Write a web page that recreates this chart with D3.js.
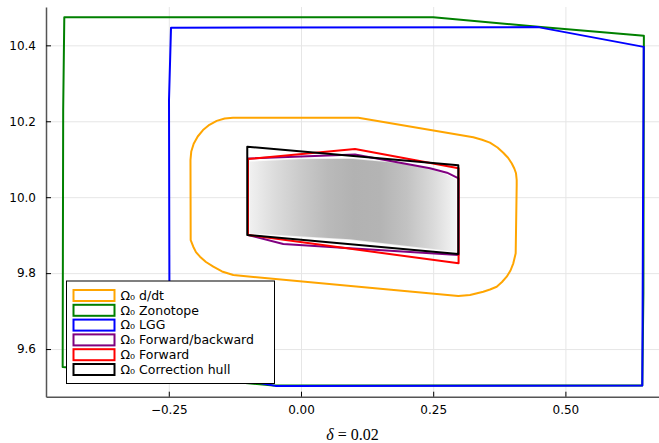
<!DOCTYPE html>
<html>
<head>
<meta charset="utf-8">
<script src="https://cdn.jsdelivr.net/npm/d3@7"></script>
<style>
  body { margin: 0; background: #fff; }
  text { font-family: "DejaVu Sans", sans-serif; }
</style>
</head>
<body>
<div id="chart"></div>
<script>
/* DATA */
const xTicks = [-0.25, 0, 0.25, 0.5];
const yTicks = [9.6, 9.8, 10.0, 10.2, 10.4];
const xLabel = "0.02";

const legendLabels = [
  "Ω₀ d/dt",
  "Ω₀ Zonotope",
  "Ω₀ LGG",
  "Ω₀ Forward/backward",
  "Ω₀ Forward",
  "Ω₀ Correction hull"
];
const seriesColors = ["orange", "green", "blue", "purple", "red", "black"];

// outer approximations (delta, omega)
const ddt = [
  [-0.2086, 9.8872], [-0.2090, 10.0980], [-0.2075, 10.1204], [-0.2029, 10.1407],
  [-0.1953, 10.1599], [-0.1853, 10.1768], [-0.1732, 10.1907], [-0.1594, 10.2010],
  [-0.1443, 10.2074], [-0.1286, 10.2094], [0.1084, 10.2094], [0.3258, 10.1578],
  [0.3423, 10.1512], [0.3573, 10.1436], [0.3716, 10.1309], [0.3825, 10.1172],
  [0.3915, 10.1038], [0.3984, 10.0893], [0.4034, 10.0756], [0.4066, 10.0630],
  [0.4079, 10.0453], [0.4079, 10.0321], [0.4060, 9.8522], [0.4015, 9.8259],
  [0.3962, 9.8069], [0.3890, 9.7906], [0.3801, 9.7766], [0.3701, 9.7642],
  [0.3574, 9.7568], [0.3447, 9.7511], [0.3196, 9.7424], [0.2975, 9.7397],
  [-0.1280, 9.7950], [-0.1494, 9.8043], [-0.1658, 9.8169], [-0.1797, 9.8293],
  [-0.1910, 9.8433], [-0.1986, 9.8554], [-0.2037, 9.8696]
];
const zonotope = [
  [-0.4476, 10.474], [0.2502, 10.474], [0.4482, 10.449], [0.6484, 10.425],
  [0.6475, 9.748], [0.6454, 9.504], [-0.0520, 9.504], [-0.2502, 9.529],
  [-0.4507, 9.553], [-0.4497, 10.230]
];
const lgg = [
  [-0.2458, 10.4465], [0.4482, 10.448], [0.6481, 10.396], [0.6454, 9.504],
  [-0.0482, 9.503], [-0.2485, 9.554], [-0.2496, 10.256]
];
const fwdBwd = [
  [-0.1002, 10.1019], [0.1021, 10.1125], [0.2439, 10.0761], [0.2761, 10.0645],
  [0.2980, 10.0498], [0.2980, 9.8477], [0.0927, 9.8654], [-0.0335, 9.8767],
  [-0.1002, 9.9004]
];
const forward = [
  [-0.1002, 10.1006], [0.1021, 10.1270], [0.2980, 10.0761], [0.2980, 9.8259],
  [-0.1002, 9.9004]
];
const correctionHull = [
  [-0.1016, 10.1330], [0.2975, 10.0840], [0.2975, 9.8504], [-0.1016, 9.9004]
];

// simulated trajectories cloud (grey)
const cloud = [
  [-0.0983, 10.0954], [-0.0019, 10.1019], [0.0927, 10.1033], [0.1872, 10.0914],
  [0.2439, 10.0769], [0.2761, 10.0611], [0.2950, 10.0466], [0.2950, 9.8543],
  [0.0927, 9.8872], [-0.0983, 9.9031]
];
const cloudShadeX = [-0.1, -0.05, 0.0, 0.05, 0.1, 0.15, 0.2, 0.25, 0.3];
const cloudShade = [242, 220, 202, 186, 178, 180, 194, 218, 248];

/* LAYOUT */
const width = 659, height = 443;

const x = d3.scaleLinear().domain([-0.4822, 0.677]).range([46, 659]);
const y = d3.scaleLinear().domain([9.4745, 10.501]).range([396.7, 7]);

const svg = d3.select("#chart").append("svg")
  .attr("width", width)
  .attr("height", height);

// grid
svg.append("g")
  .attr("transform", `translate(0,${y.range()[0]})`)
  .call(d3.axisBottom(x).tickValues(xTicks).tickSize(-(y.range()[0] - y.range()[1])).tickFormat(""))
  .call(g => g.select(".domain").remove())
  .call(g => g.selectAll("line").attr("stroke", "#e6e6e6"));

svg.append("g")
  .attr("transform", `translate(${x.range()[0]},0)`)
  .call(d3.axisLeft(y).tickValues(yTicks).tickSize(-(x.range()[1] - x.range()[0])).tickFormat(""))
  .call(g => g.select(".domain").remove())
  .call(g => g.selectAll("line").attr("stroke", "#e6e6e6"));

// grey cloud with horizontal shading
const grad = svg.append("defs").append("linearGradient")
  .attr("id", "cloudGrad")
  .attr("gradientUnits", "userSpaceOnUse")
  .attr("x1", x(cloudShadeX[0])).attr("x2", x(cloudShadeX[cloudShadeX.length - 1]))
  .attr("y1", 0).attr("y2", 0);
grad.selectAll("stop")
  .data(cloudShadeX)
  .join("stop")
  .attr("offset", (d, i) => i / (cloudShadeX.length - 1))
  .attr("stop-color", (d, i) => d3.rgb(cloudShade[i], cloudShade[i], cloudShade[i]));

const line = d3.line().x(d => x(d[0])).y(d => y(d[1])).curve(d3.curveLinearClosed);

svg.append("path")
  .attr("d", line(cloud))
  .attr("fill", "url(#cloudGrad)")
  .attr("stroke", "#fff")
  .attr("stroke-opacity", 0.7)
  .attr("stroke-width", 1.5);

// sets
const shapes = [ddt, zonotope, lgg, fwdBwd, forward, correctionHull];
svg.selectAll("path.set")
  .data(shapes)
  .join("path")
  .attr("class", "set")
  .attr("d", d => line(d))
  .attr("fill", "none")
  .attr("stroke", (d, i) => seriesColors[i])
  .attr("stroke-width", 2)
  .attr("stroke-linejoin", "round");

// axes
const xAxis = svg.append("g")
  .attr("transform", `translate(0,${y.range()[0]})`)
  .call(d3.axisBottom(x).tickValues(xTicks).tickSizeInner(-5).tickSizeOuter(0)
    .tickPadding(9).tickFormat(d3.format(".2f")));
const yAxis = svg.append("g")
  .attr("transform", `translate(${x.range()[0]},0)`)
  .call(d3.axisLeft(y).tickValues(yTicks).tickSizeInner(-5).tickSizeOuter(0)
    .tickPadding(10).tickFormat(d3.format(".1f")));

[xAxis, yAxis].forEach(g => {
  g.select(".domain").attr("stroke", "#555").attr("stroke-width", 1.5);
  g.selectAll(".tick line").attr("stroke", "#000");
  g.selectAll("text").attr("font-size", 12).attr("fill", "#000")
    .style("font-family", "'DejaVu Sans', sans-serif");
});

// x label
const lab = svg.append("text")
  .attr("x", (x.range()[0] + x.range()[1]) / 2)
  .attr("y", 440)
  .attr("text-anchor", "middle")
  .style("font-family", "'Liberation Serif', 'DejaVu Serif', serif")
  .attr("font-size", 16);
lab.append("tspan").attr("font-style", "italic").text("δ");
lab.append("tspan").text(" = " + xLabel);

// legend
const leg = svg.append("g").attr("transform", "translate(66.5,281)");
leg.append("rect")
  .attr("width", 208).attr("height", 102.5)
  .attr("fill", "#fff").attr("stroke", "#000").attr("stroke-width", 1);

const item = leg.selectAll("g.item")
  .data(legendLabels)
  .join("g")
  .attr("class", "item")
  .attr("transform", (d, i) => `translate(0,${14.5 + i * 14.8})`);

item.append("rect")
  .attr("x", 7).attr("y", -5.5)
  .attr("width", 41).attr("height", 11)
  .attr("fill", "#fff")
  .attr("stroke", (d, i) => seriesColors[i])
  .attr("stroke-width", 2);

item.append("text")
  .attr("x", 54)
  .attr("dy", "0.35em")
  .attr("font-size", 12.5)
  .text(d => d);
</script>
</body>
</html>
